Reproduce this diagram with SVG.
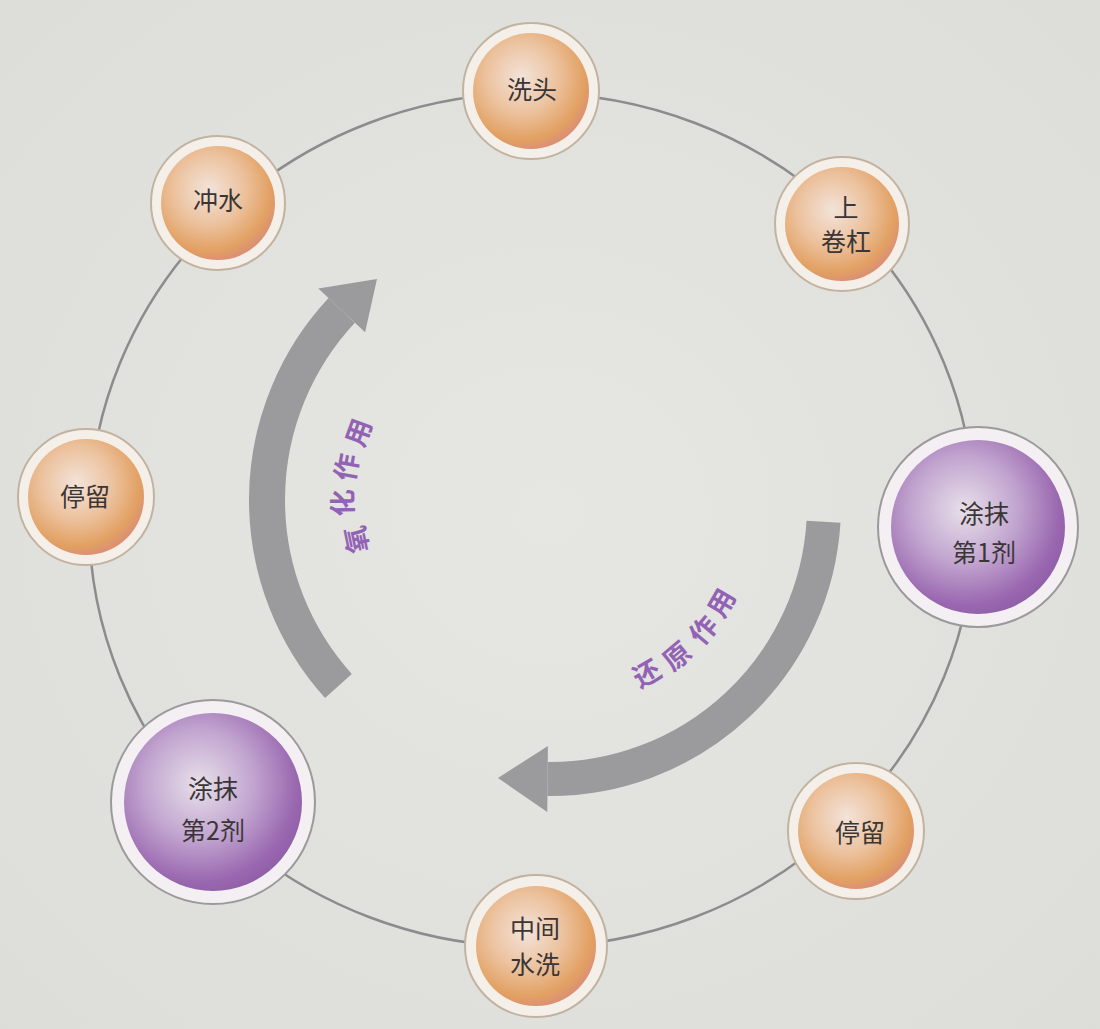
<svg xmlns="http://www.w3.org/2000/svg" width="1100" height="1029" viewBox="0 0 1100 1029">
<defs>
<radialGradient id="gOrange" cx="0.42" cy="0.38" r="0.62">
<stop offset="0" stop-color="#f3e3da"/>
<stop offset="0.5" stop-color="#ecc29e"/>
<stop offset="0.88" stop-color="#e2a062"/>
<stop offset="1" stop-color="#dc9272"/>
</radialGradient>
<radialGradient id="gPurple" cx="0.42" cy="0.4" r="0.62">
<stop offset="0" stop-color="#e8e0ea"/>
<stop offset="0.5" stop-color="#c1a4cf"/>
<stop offset="0.88" stop-color="#9a68b0"/>
<stop offset="1" stop-color="#9060a8"/>
</radialGradient>
<radialGradient id="gBg" cx="0.5" cy="0.5" r="0.75">
<stop offset="0" stop-color="#e6e6e3"/>
<stop offset="1" stop-color="#dcdcd9"/>
</radialGradient>
</defs>
<style>
.ring{fill:none;stroke:#8c8c8c;stroke-width:2.5}
.rimO{fill:#f4efe8;stroke:#c2b3a0;stroke-width:2}
.rimP{fill:#f4eff2;stroke:#9a9a9a;stroke-width:2}
.inO{fill:url(#gOrange)}
.inP{fill:url(#gPurple)}
.lbl{font-family:"Noto Sans CJK SC","Liberation Sans",sans-serif;font-size:25px;fill:#3a3636;text-anchor:middle;dominant-baseline:central}
.shaft{fill:none;stroke:#9b9b9d;stroke-linecap:butt}
.head{fill:#9b9b9d}
.act{font-family:"Noto Sans CJK SC","Liberation Sans",sans-serif;font-size:27px;font-weight:700;fill:#9262b4;text-anchor:middle;dominant-baseline:central}
</style>
<rect width="1100" height="1029" fill="url(#gBg)"/>

<g id="connectors">
<ellipse class="ring" cx="532" cy="520" rx="443" ry="427"/>
</g>

<g id="arrows">
<g id="arrow-oxidation">
<path class="shaft" stroke-width="36" d="M338.4,686 A278,278 0 0 1 341.7,310.4"/>
<polygon class="head" points="318.3,288.6 377,279 365.1,332.2"/>
</g>
<g id="arrow-reduction">
<path class="shaft" stroke-width="34" d="M823.5,521.7 A274,274 0 0 1 547.6,779"/>
<polygon class="head" points="547.3,812 498,778 547.9,746"/>
</g>
</g>

<g id="label-oxidation">
<text class="act" transform="translate(355,540) rotate(-102)">氧</text>
<text class="act" transform="translate(341,503) rotate(-91)">化</text>
<text class="act" transform="translate(345,467) rotate(-80)">作</text>
<text class="act" transform="translate(357,432) rotate(-70)">用</text>
</g>
<g id="label-reduction">
<text class="act" transform="translate(646,672) rotate(-30)">还</text>
<text class="act" transform="translate(676,655) rotate(-40)">原</text>
<text class="act" transform="translate(702,629) rotate(-50)">作</text>
<text class="act" transform="translate(720,602) rotate(-60)">用</text>
</g>

<g id="node-xitou">
<circle class="rimO" cx="531" cy="91" r="68"/>
<circle class="inO" cx="531" cy="91" r="58"/>
<text class="lbl" x="532" y="88">洗头</text>
</g>
<g id="node-shangjuangang">
<circle class="rimO" cx="842" cy="224" r="67"/>
<circle class="inO" cx="842" cy="224" r="57"/>
<text class="lbl" x="846" y="206">上</text>
<text class="lbl" x="846" y="240">卷杠</text>
</g>
<g id="node-tumo1">
<circle class="rimP" cx="978" cy="527" r="100"/>
<circle class="inP" cx="978" cy="527" r="87"/>
<text class="lbl" x="984" y="512">涂抹</text>
<text class="lbl" x="984" y="551">第1剂</text>
</g>
<g id="node-tingliu-right">
<circle class="rimO" cx="856" cy="831" r="68"/>
<circle class="inO" cx="856" cy="831" r="58"/>
<text class="lbl" x="860" y="831">停留</text>
</g>
<g id="node-zhongjianshuixi">
<circle class="rimO" cx="536" cy="946" r="71"/>
<circle class="inO" cx="536" cy="946" r="60"/>
<text class="lbl" x="535" y="927">中间</text>
<text class="lbl" x="535" y="963">水洗</text>
</g>
<g id="node-tumo2">
<circle class="rimP" cx="213" cy="802" r="102"/>
<circle class="inP" cx="213" cy="802" r="89"/>
<text class="lbl" x="213" y="787">涂抹</text>
<text class="lbl" x="213" y="829">第2剂</text>
</g>
<g id="node-tingliu-left">
<circle class="rimO" cx="86" cy="497" r="68"/>
<circle class="inO" cx="86" cy="497" r="58"/>
<text class="lbl" x="85" y="495">停留</text>
</g>
<g id="node-chongshui">
<circle class="rimO" cx="218" cy="203" r="67"/>
<circle class="inO" cx="218" cy="203" r="57"/>
<text class="lbl" x="218" y="199">冲水</text>
</g>
</svg>
